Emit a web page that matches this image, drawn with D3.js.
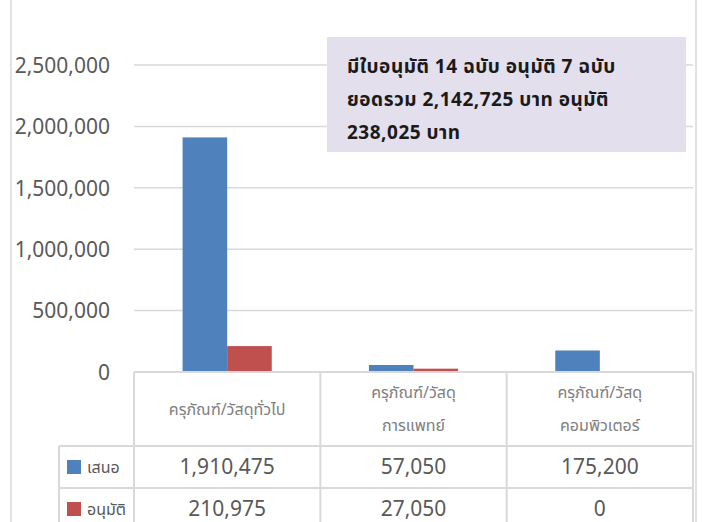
<!DOCTYPE html>
<html><head><meta charset="utf-8">
<script src="https://cdn.jsdelivr.net/npm/d3@7"></script>
<style>
html,body{margin:0;padding:0;background:#fff;}
svg{display:block;}
</style></head>
<body>
<script>
const categories = [["ครุภัณฑ์/วัสดุทั่วไป"], ["ครุภัณฑ์/วัสดุ", "การแพทย์"], ["ครุภัณฑ์/วัสดุ", "คอมพิวเตอร์"]];
const seriesNames = ["เสนอ", "อนุมัติ"];
const proposed = [1910475, 57050, 175200];
const approved = [210975, 27050, 0];
const yTicks = [0, 500000, 1000000, 1500000, 2000000, 2500000];
const noteLines = ["มีใบอนุมัติ 14 ฉบับ อนุมัติ 7 ฉบับ", "ยอดรวม 2,142,725 บาท อนุมัติ", "238,025 บาท"];
const colors = ["#4f81bd", "#c0504d"];

const W = 702, H = 522;
const svg = d3.select("body").append("svg").attr("width", W).attr("height", H);
const font = "'Noto Sans', 'Noto Sans Thai', 'DejaVu Sans', sans-serif";
const gridC = "#d9d9d9";

const plotL = 134, plotR = 693, y0 = 372, yTop = 65;
const x = d3.scaleBand().domain(d3.range(categories.length)).range([plotL, plotR]).paddingInner(0).paddingOuter(0);
const y = d3.scaleLinear().domain([0, 2500000]).range([y0, yTop]);
const xs = d3.scaleBand().domain([0, 1]).range([0, x.bandwidth()]).paddingInner(0).paddingOuter(1.09);

// chart border
svg.append("line").attr("x1", 11).attr("x2", 11).attr("y1", 0).attr("y2", H).attr("stroke", gridC).attr("stroke-width", 1.5);
svg.append("line").attr("x1", 696).attr("x2", 696).attr("y1", 0).attr("y2", H).attr("stroke", gridC).attr("stroke-width", 1.5);

// gridlines
svg.append("g").selectAll("line").data(yTicks.slice(1)).join("line")
  .attr("x1", plotL).attr("x2", plotR).attr("y1", d => y(d)).attr("y2", d => y(d))
  .attr("stroke", gridC).attr("stroke-width", 1.5);

// y axis labels
const yAxis = d3.axisLeft(y).tickValues(yTicks).tickFormat(d3.format(",")).tickSize(0).tickPadding(0);
const ga = svg.append("g").attr("transform", `translate(110,0)`).call(yAxis);
ga.select(".domain").remove();
ga.selectAll("text").attr("font-family", font).attr("font-size", 21).attr("fill", "#595959").attr("dy", "0.35em");

// bars
const series = [proposed, approved];
series.forEach((vals, si) => {
  svg.append("g").selectAll("rect").data(vals).join("rect")
    .attr("x", (d, i) => x(i) + xs(si))
    .attr("width", xs.bandwidth())
    .attr("y", d => y(d))
    .attr("height", d => y0 - y(d))
    .attr("fill", colors[si]);
});

// axis line
svg.append("line").attr("x1", plotL).attr("x2", plotR).attr("y1", y0).attr("y2", y0).attr("stroke", gridC).attr("stroke-width", 2);

// data table
const rowTop = 446, rowH = 42, tableL = 59;
const tbl = svg.append("g").attr("stroke", gridC).attr("stroke-width", 2);
[plotL, ...categories.map((c, i) => x(i) + x.bandwidth())].forEach(xx => {
  tbl.append("line").attr("x1", xx).attr("x2", xx).attr("y1", y0).attr("y2", H);
});
tbl.append("line").attr("x1", tableL).attr("x2", tableL).attr("y1", rowTop).attr("y2", H);
[rowTop, rowTop + rowH].forEach(yy => {
  tbl.append("line").attr("x1", tableL).attr("x2", plotR).attr("y1", yy).attr("y2", yy);
});

// category labels
categories.forEach((lines, i) => {
  const cx = x(i) + x.bandwidth() / 2;
  const cy = (y0 + rowTop) / 2;
  const lh = 33;
  lines.forEach((t, j) => {
    svg.append("text").attr("x", cx).attr("y", cy + (j - (lines.length - 1) / 2) * lh)
      .attr("dy", "0.35em").attr("text-anchor", "middle")
      .attr("font-family", font).attr("font-size", 16).attr("fill", "#808080").text(t);
  });
});

// values rows
const fmt = d3.format(",");
series.forEach((vals, si) => {
  const cy = rowTop + rowH * si + rowH / 2;
  svg.append("rect").attr("x", 67).attr("y", cy - 7).attr("width", 14).attr("height", 14).attr("fill", colors[si]);
  svg.append("text").attr("x", 87).attr("y", cy).attr("dy", "0.35em")
    .attr("font-family", font).attr("font-size", 16).attr("fill", "#595959").text(seriesNames[si]);
  vals.forEach((v, i) => {
    svg.append("text").attr("x", x(i) + x.bandwidth() / 2).attr("y", cy).attr("dy", "0.35em")
      .attr("text-anchor", "middle").attr("font-family", font).attr("font-size", 21)
      .attr("fill", "#595959").text(fmt(v));
  });
});

// annotation box
svg.append("rect").attr("x", 327).attr("y", 37).attr("width", 359).attr("height", 115).attr("fill", "#e4dfec");
noteLines.forEach((t, j) => {
  svg.append("text").attr("x", 347).attr("y", 73 + j * 33)
    .attr("font-family", font).attr("font-size", 19).attr("font-weight", "bold")
    .attr("letter-spacing", 0.5).attr("fill", "#1a1a1a").text(t);
});
</script>
</body></html>
